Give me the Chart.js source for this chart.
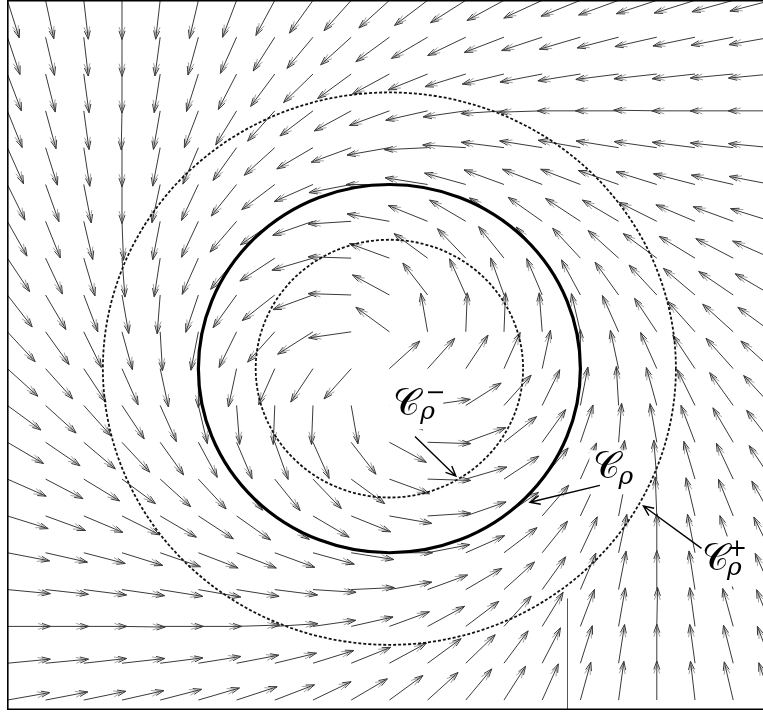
<!DOCTYPE html>
<html>
<head>
<meta charset="utf-8">
<script src="https://cdn.jsdelivr.net/npm/chart.js@4.4.1/dist/chart.umd.min.js"></script>
<style>
html,body{margin:0;padding:0;background:#fff;overflow:hidden}
canvas{display:block}
</style>
</head>
<body>
<canvas id="c" width="763" height="712"></canvas>
<script>
// ---------- DATA ----------
// grid of arrow tails (data units, field centre at 0,0)
const gridX = [-10,-9,-8,-7,-6,-5,-4,-3,-2,-1,0,1,2,3,4,5,6,7,8,9,10];
const gridY = [10,9,8,7,6,5,4,3,2,1,0,-1,-2,-3,-4,-5,-6,-7,-8,-9];
// arrow direction in degrees (counter-clockwise from +x), one row per gridY value
const fieldAngles = [
  [286,281,276,270,264,258,251,244,237,231,225,220,215,211,207,204,202,200,199,197,196],
  [287,282,276,270,263,256,248,240,233,225,219,213,208,203,200,198,196,194,193,192,191],
  [289,283,277,270,262,254,245,236,227,219,211,204,199,195,192,190,188,187,187,186,186],
  [290,284,277,269,261,251,241,231,220,211,202,194,189,184,182,180,180,179,180,180,180],
  [292,286,278,270,260,249,237,225,213,202,191,183,176,172,170,169,170,171,172,173,174],
  [294,288,280,270,259,247,234,220,206,192,180,170,163,158,157,157,159,161,164,166,168],
  [297,290,282,272,260,247,232,217,201,184,169,156,147,143,142,144,147,151,155,158,161],
  [301,293,285,274,262,248,233,216,198,178,158,141,131,126,127,130,135,141,146,150,154],
  [305,298,289,279,266,253,237,221,202,178,149,125,112,108,111,116,123,130,137,143,147],
  [310,303,294,284,273,260,246,231,215,189,141,99,88,88,94,102,112,121,129,135,141],
  [315,309,301,292,281,270,259,248,239,231,45,51,59,68,79,90,101,112,121,129,135],
  [321,315,309,301,292,282,274,268,268,279,321,9,35,51,66,80,93,104,114,123,130],
  [327,323,317,310,303,296,291,288,292,305,329,358,22,41,57,73,86,99,109,118,125],
  [334,330,326,321,315,310,307,306,311,321,338,358,18,36,53,68,82,94,105,113,121],
  [341,338,335,331,327,324,322,323,327,336,349,4,21,37,52,67,80,92,102,110,117],
  [348,346,344,341,339,337,337,338,343,350,0,12,26,40,54,67,79,90,100,108,114],
  [354,353,352,351,350,349,350,352,356,3,11,22,33,45,57,69,80,90,98,106,112],
  [0,0,0,359,0,0,2,4,9,14,22,31,40,51,61,71,81,89,97,104,110],
  [6,6,7,7,8,10,12,15,19,24,31,39,47,56,65,74,82,90,97,103,109],
  [11,12,13,14,16,18,20,23,28,33,39,45,53,60,68,76,83,90,96,102,107]
];
// circles C_rho^-, C_rho, C_rho^+ (radius in data units)
const circleRadii = [3.5, 5, 7.5];
const circleNames = ['inner', 'cycle', 'outer'];
// labels
const labelMain = ['\u{1D49E}', '\u{1D49E}', '\u{1D49E}'];
const labelSup  = ['\u2212', '', '+'];
const labelSub  = ['\u03C1', '\u03C1', '\u03C1'];

// ---------- CONFIG (styles / placement) ----------
const arrowStyle = {lx:1.13, ly:1.06, color:'#3a3a3a', ghost:'#a0a0a0', width:1, head:9, spread:0.34, back:4};
const circleStyle = {
  inner: {width:1.8, dash:[3,2], color:'#111'},
  cycle: {width:3.2, dash:[],    color:'#000'},
  outer: {width:1.8, dash:[3,2], color:'#111'}
};
const labelPlace = [
  {x:0.10, y:-1.27, sup:[32,-15], sub:[27,4],  box:[-4,-34,50,14]},
  {x:5.34, y:-2.98, sup:[0,0],    sub:[25,6],  box:[-4,-28,48,16]},
  {x:8.18, y:-5.48, sup:[25,-14], sub:[25,5],  box:[-4,-34,46,16]}
];
const labelFonts = {
  main: '37px "DejaVu Serif", "DejaVu Sans", serif',
  sup: '24px "DejaVu Serif", serif',
  sub: 'italic 25px "DejaVu Serif", serif'
};
const leaderLines = [
  {from:[0.67,-1.84], to:[1.74,-2.92]},
  {from:[5.51,-3.17], to:[3.68,-3.63]},
  {from:[8.17,-4.88], to:[6.65,-3.73]}
];
const extraLine = {x:4.65, y0:-6.24, y1:-9.5};

function drawHead(ctx, x, y, ang, len, spread) {
  ctx.moveTo(x - len*Math.cos(ang - spread), y - len*Math.sin(ang - spread));
  ctx.lineTo(x, y);
  ctx.lineTo(x - len*Math.cos(ang + spread), y - len*Math.sin(ang + spread));
}

const fieldPlugin = {
  id: 'field',
  afterDatasetsDraw(chart) {
    const {ctx, chartArea: a, scales: {x, y}} = chart;
    ctx.save();
    ctx.beginPath();
    ctx.rect(a.left, a.top, a.right - a.left, a.bottom - a.top);
    ctx.clip();

    // vector field arrows
    ctx.lineWidth = arrowStyle.width;
    for (let r = 0; r < gridY.length; r++) {
      for (let c = 0; c < gridX.length; c++) {
        const t = fieldAngles[r][c] * Math.PI / 180;
        const X0 = x.getPixelForValue(gridX[c]);
        const Y0 = y.getPixelForValue(gridY[r]);
        const X1 = x.getPixelForValue(gridX[c] + arrowStyle.lx * Math.cos(t));
        const Y1 = y.getPixelForValue(gridY[r] + arrowStyle.ly * Math.sin(t));
        const ang = Math.atan2(Y1 - Y0, X1 - X0);
        ctx.strokeStyle = arrowStyle.ghost;
        ctx.beginPath();
        drawHead(ctx, X1 - arrowStyle.back*Math.cos(ang), Y1 - arrowStyle.back*Math.sin(ang), ang, arrowStyle.head, arrowStyle.spread);
        ctx.stroke();
        ctx.strokeStyle = arrowStyle.color;
        ctx.beginPath();
        ctx.moveTo(X0, Y0);
        ctx.lineTo(X1, Y1);
        drawHead(ctx, X1, Y1, ang, arrowStyle.head, arrowStyle.spread);
        ctx.stroke();
      }
    }

    // extra thin vertical line
    ctx.strokeStyle = '#555';
    ctx.lineWidth = 1;
    ctx.beginPath();
    const ex = Math.round(x.getPixelForValue(extraLine.x)) + 0.5;
    ctx.moveTo(ex, y.getPixelForValue(extraLine.y0));
    ctx.lineTo(ex, y.getPixelForValue(extraLine.y1));
    ctx.stroke();

    // circles
    const cx = x.getPixelForValue(0), cy = y.getPixelForValue(0);
    circleRadii.forEach((rad, i) => {
      const st = circleStyle[circleNames[i]];
      const rx = x.getPixelForValue(rad) - cx;
      const ry = cy - y.getPixelForValue(rad);
      ctx.strokeStyle = st.color;
      ctx.lineWidth = st.width;
      ctx.setLineDash(st.dash);
      ctx.beginPath();
      ctx.ellipse(cx, cy, rx, ry, 0, 0, Math.PI * 2);
      ctx.stroke();
    });
    ctx.setLineDash([]);

    // label boxes + labels
    labelMain.forEach((txt, i) => {
      const p = labelPlace[i];
      const lx = x.getPixelForValue(p.x), ly = y.getPixelForValue(p.y);
      ctx.fillStyle = '#fff';
      ctx.fillRect(lx + p.box[0], ly + p.box[1], p.box[2] - p.box[0], p.box[3] - p.box[1]);
      ctx.fillStyle = '#000';
      ctx.textBaseline = 'alphabetic';
      ctx.textAlign = 'left';
      ctx.font = labelFonts.main;
      ctx.fillText(txt, lx, ly);
      if (labelSup[i]) {
        ctx.font = labelFonts.sup;
        ctx.fillText(labelSup[i], lx + p.sup[0], ly + p.sup[1]);
      }
      if (labelSub[i]) {
        ctx.font = labelFonts.sub;
        ctx.fillText(labelSub[i], lx + p.sub[0], ly + p.sub[1]);
      }
    });

    // leader arrows
    ctx.strokeStyle = '#000';
    ctx.lineWidth = 1.4;
    leaderLines.forEach(l => {
      const X0 = x.getPixelForValue(l.from[0]), Y0 = y.getPixelForValue(l.from[1]);
      const X1 = x.getPixelForValue(l.to[0]), Y1 = y.getPixelForValue(l.to[1]);
      const ang = Math.atan2(Y1 - Y0, X1 - X0);
      ctx.beginPath();
      ctx.moveTo(X0, Y0);
      ctx.lineTo(X1, Y1);
      drawHead(ctx, X1, Y1, ang, 11, 0.42);
      ctx.stroke();
    });
    ctx.restore();

    // frame (left, top, bottom)
    ctx.save();
    ctx.strokeStyle = '#000';
    ctx.lineWidth = 1.6;
    ctx.beginPath();
    ctx.moveTo(a.right, a.top + 0.8);
    ctx.lineTo(a.left + 0.8, a.top + 0.8);
    ctx.lineTo(a.left + 0.8, a.bottom - 0.8);
    ctx.lineTo(a.right, a.bottom - 0.8);
    ctx.stroke();
    ctx.restore();
  }
};

const tailPoints = [];
gridY.forEach(gy => gridX.forEach(gx => tailPoints.push({x: gx, y: gy})));

new Chart(document.getElementById('c'), {
  type: 'scatter',
  data: {
    datasets: [{
      label: 'grid',
      data: tailPoints,
      pointRadius: 0,
      showLine: false
    }]
  },
  options: {
    responsive: false,
    animation: false,
    devicePixelRatio: 1,
    events: [],
    layout: {padding: {left: 7, top: 0, right: 0, bottom: 2}},
    plugins: {legend: {display: false}, tooltip: {enabled: false}},
    scales: {
      x: {type: 'linear', display: false, min: -10.01, max: 9.78},
      y: {type: 'linear', display: false, min: -9.27, max: 10.01}
    }
  },
  plugins: [fieldPlugin]
});
</script>
</body>
</html>
